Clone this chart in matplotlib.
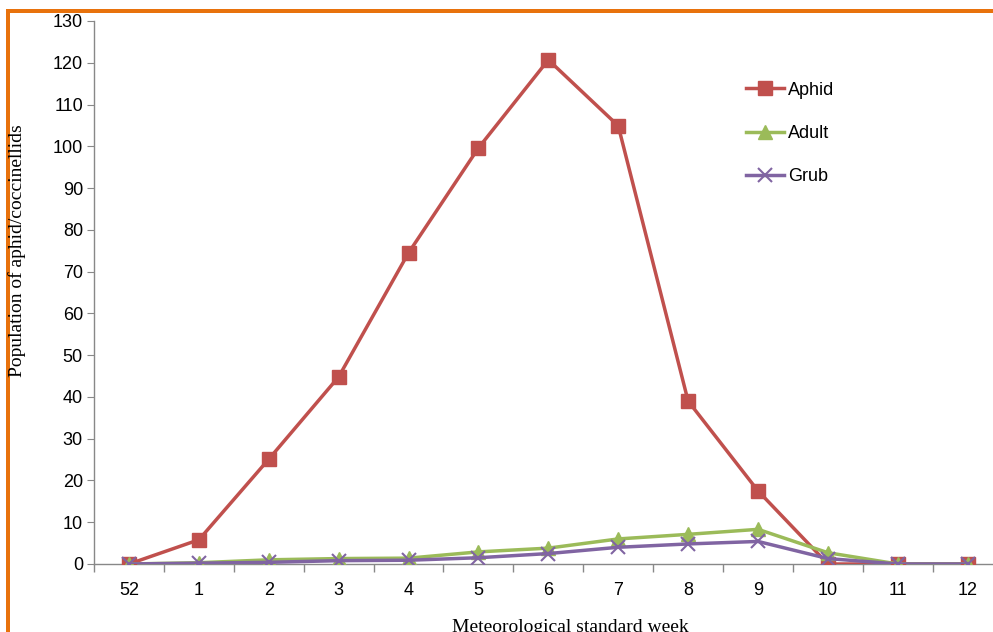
import matplotlib.pyplot as plt
from matplotlib.patches import Rectangle

# data
weeks = ["52", "1", "2", "3", "4", "5", "6", "7", "8", "9", "10", "11", "12"]
aphid = [0, 5.8, 25.1, 44.8, 74.5, 99.6, 120.7, 104.9, 39.0, 17.5, 0, 0, 0]
adult = [0, 0.3, 1.0, 1.3, 1.4, 2.9, 3.8, 6.0, 7.1, 8.3, 2.7, 0, 0]
grub = [0, 0.2, 0.4, 0.8, 0.9, 1.5, 2.5, 4.0, 4.8, 5.4, 1.3, 0, 0]

plt.rcParams['font.family'] = ['Liberation Sans', 'DejaVu Sans']

fig = plt.figure(figsize=(9.93, 6.32), dpi=100)
ax = fig.add_axes([0.0947, 0.1076, 0.915, 0.8592])

x = list(range(len(weeks)))
ax.plot(x, aphid, color="#C0504D", lw=2.5, marker="s", ms=10.5, label="Aphid", zorder=3)
ax.plot(x, adult, color="#9BBB59", lw=2.5, marker="^", ms=10, label="Adult", zorder=4)
ax.plot(x, grub, color="#8064A2", lw=2.5, marker="x", ms=10, mew=1.5, label="Grub", zorder=5)

ax.set_xlim(-0.5, len(weeks) - 0.5)
ax.set_ylim(0, 130)
ax.set_yticks(range(0, 131, 10))
ax.set_xticks(x)
ax.set_xticklabels(weeks)
ax.set_xticks([i - 0.5 for i in range(len(weeks) + 1)], minor=True)
ax.tick_params(axis="x", which="major", length=0, labelsize=13, pad=13)
ax.tick_params(axis="x", which="minor", length=6, color="#888888", width=1)
ax.tick_params(axis="y", length=5, color="#888888", labelsize=13, pad=3)

for s in ["top", "right"]:
    ax.spines[s].set_visible(False)
for s in ["left", "bottom"]:
    ax.spines[s].set_color("#888888")
    ax.spines[s].set_linewidth(1)

fig.text(17 / 993, 1 - 251 / 632, "Population of aphid/coccinellids", family="Liberation Serif",
         fontsize=14, rotation=90, ha="center", va="center")
fig.text(570 / 993, 1 - 628 / 632, "Meteorological standard week", family="Liberation Serif",
         fontsize=14, ha="center", va="center")

ax.legend(loc="upper left", bbox_to_anchor=(0.6994, 0.918), frameon=False, fontsize=13,
          handlelength=2.1, labelspacing=1.45, handletextpad=0.25)

# orange frame (top and left edges)
fig.add_artist(Rectangle((6 / 993, 1 - 12.5 / 632), 1, 3.5 / 632, transform=fig.transFigure,
                         color="#E8720C", lw=0, clip_on=False))
fig.add_artist(Rectangle((6 / 993, 0), 4 / 993, 1 - 9 / 632, transform=fig.transFigure,
                         color="#E8720C", lw=0, clip_on=False))

fig.savefig("out.png", dpi=100)
